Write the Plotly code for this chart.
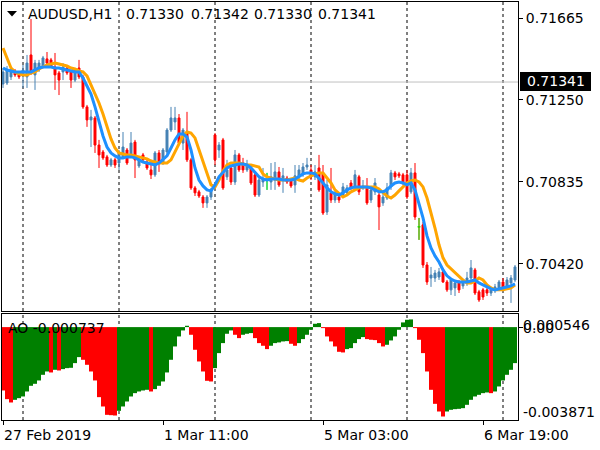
import plotly.graph_objects as go

# ---------------- data ----------------
opens = [0.71331,0.71336,0.71367,0.71397,0.71387,0.71372,0.71367,0.71478,0.71377,0.71402,
0.71417,0.71458,0.71453,0.71417,0.71387,0.71392,0.71412,0.71392,0.71351,0.71412,
0.71367,0.71215,0.71149,0.71159,0.71022,0.70987,0.70962,0.70921,0.70947,0.70931,
0.70962,0.70997,0.70972,0.71037,0.70916,0.70972,0.70936,0.70896,0.70871,0.70982,
0.70931,0.70987,0.71098,0.71139,0.71159,0.71032,0.71083,0.70947,0.70805,0.70785,
0.70759,0.70729,0.70759,0.71073,0.70997,0.71048,0.70861,0.70906,0.70835,0.70972,
0.70931,0.70896,0.70906,0.70871,0.70769,0.70835,0.70845,0.70835,0.70845,0.70886,
0.70845,0.70855,0.70845,0.70820,0.70861,0.70871,0.70911,0.70896,0.70861,0.70906,
0.70881,0.70683,0.70780,0.70744,0.70759,0.70769,0.70780,0.70830,0.70810,0.70861,
0.70805,0.70805,0.70744,0.70785,0.70769,0.70729,0.70754,0.70810,0.70881,0.70876,
0.70871,0.70871,0.70785,0.70881,0.70608,0.70618,0.70415,0.70349,0.70349,0.70354,
0.70380,0.70329,0.70289,0.70299,0.70329,0.70309,0.70324,0.70349,0.70390,0.70279,
0.70289,0.70289,0.70273,0.70289,0.70299,0.70329,0.70304,0.70324,0.70339]
highs = [0.71412,0.71422,0.71417,0.71407,0.71397,0.71427,0.71478,0.71660,0.71453,0.71453,
0.71473,0.71493,0.71463,0.71488,0.71397,0.71437,0.71422,0.71402,0.71412,0.71453,
0.71377,0.71225,0.71200,0.71169,0.71048,0.70997,0.70972,0.70957,0.70957,0.70997,
0.71088,0.71007,0.71088,0.71048,0.70957,0.70982,0.70947,0.70947,0.70992,0.70997,
0.71007,0.71108,0.71215,0.71215,0.71179,0.71108,0.71190,0.70957,0.70815,0.70795,
0.70769,0.70769,0.70805,0.71083,0.71037,0.71058,0.70947,0.70921,0.70997,0.70982,
0.70957,0.70947,0.70921,0.70881,0.70855,0.70906,0.70881,0.70931,0.70936,0.70911,
0.70906,0.70866,0.70855,0.70921,0.70921,0.70931,0.70957,0.70921,0.70921,0.70972,
0.70921,0.70845,0.70906,0.70795,0.70769,0.70830,0.70820,0.70845,0.70896,0.70871,
0.70845,0.70855,0.70815,0.70855,0.70795,0.70780,0.70830,0.70896,0.70891,0.70886,
0.70881,0.70896,0.70906,0.70931,0.70653,0.70633,0.70430,0.70405,0.70390,0.70400,
0.70400,0.70339,0.70349,0.70339,0.70339,0.70344,0.70380,0.70440,0.70400,0.70289,
0.70299,0.70309,0.70304,0.70319,0.70339,0.70349,0.70354,0.70364,0.70415]
lows = [0.71311,0.71326,0.71351,0.71367,0.71356,0.71311,0.71311,0.71377,0.71301,0.71392,
0.71412,0.71427,0.71412,0.71301,0.71275,0.71351,0.71377,0.71311,0.71341,0.71356,
0.71205,0.71114,0.71012,0.70982,0.70906,0.70947,0.70911,0.70911,0.70906,0.70896,
0.70952,0.70921,0.70962,0.70855,0.70906,0.70931,0.70896,0.70850,0.70861,0.70886,
0.70921,0.70972,0.71088,0.71098,0.71022,0.70997,0.70936,0.70795,0.70764,0.70754,
0.70704,0.70704,0.70744,0.70921,0.70957,0.70795,0.70845,0.70820,0.70820,0.70886,
0.70881,0.70886,0.70820,0.70759,0.70759,0.70810,0.70795,0.70795,0.70795,0.70810,
0.70780,0.70825,0.70805,0.70780,0.70845,0.70861,0.70896,0.70845,0.70845,0.70785,
0.70668,0.70668,0.70729,0.70729,0.70729,0.70754,0.70764,0.70795,0.70795,0.70769,
0.70795,0.70719,0.70729,0.70769,0.70592,0.70714,0.70744,0.70795,0.70845,0.70855,
0.70820,0.70749,0.70775,0.70643,0.70542,0.70400,0.70314,0.70304,0.70329,0.70339,
0.70324,0.70279,0.70263,0.70258,0.70273,0.70294,0.70309,0.70339,0.70263,0.70228,
0.70238,0.70258,0.70258,0.70273,0.70283,0.70289,0.70294,0.70223,0.70329]
closes = [0.71392,0.71402,0.71402,0.71377,0.71367,0.71402,0.71437,0.71387,0.71437,0.71437,
0.71463,0.71437,0.71417,0.71377,0.71351,0.71417,0.71387,0.71351,0.71402,0.71367,
0.71215,0.71149,0.71164,0.71022,0.70972,0.70957,0.70921,0.70947,0.70921,0.70987,
0.71012,0.70931,0.71032,0.70947,0.70947,0.70947,0.70906,0.70871,0.70982,0.70931,
0.70997,0.71098,0.71159,0.71159,0.71032,0.71098,0.70947,0.70805,0.70780,0.70764,
0.70729,0.70759,0.70795,0.70947,0.71022,0.70805,0.70896,0.70835,0.70972,0.70896,
0.70896,0.70921,0.70830,0.70769,0.70845,0.70845,0.70845,0.70861,0.70886,0.70820,
0.70866,0.70835,0.70815,0.70866,0.70896,0.70911,0.70921,0.70861,0.70886,0.70795,
0.70678,0.70820,0.70744,0.70780,0.70744,0.70810,0.70805,0.70805,0.70871,0.70785,
0.70815,0.70729,0.70795,0.70830,0.70709,0.70759,0.70805,0.70881,0.70861,0.70866,
0.70830,0.70759,0.70881,0.70658,0.70608,0.70415,0.70329,0.70364,0.70374,0.70380,
0.70329,0.70289,0.70339,0.70324,0.70289,0.70329,0.70349,0.70400,0.70273,0.70238,
0.70253,0.70273,0.70289,0.70304,0.70329,0.70299,0.70339,0.70349,0.70405]

ma_fast = [0.71412,0.71402,0.71397,0.71392,0.71392,0.71392,0.71392,0.71392,0.71402,0.71412,
0.71417,0.71417,0.71417,0.71412,0.71412,0.71407,0.71402,0.71397,0.71392,0.71392,
0.71361,0.71321,0.71280,0.71215,0.71139,0.71068,0.71012,0.70982,0.70967,0.70957,
0.70957,0.70962,0.70962,0.70957,0.70947,0.70936,0.70931,0.70926,0.70921,0.70931,
0.70947,0.70967,0.71007,0.71048,0.71078,0.71078,0.71063,0.70997,0.70906,0.70845,
0.70815,0.70795,0.70790,0.70820,0.70861,0.70886,0.70906,0.70916,0.70921,0.70926,
0.70926,0.70921,0.70906,0.70881,0.70861,0.70850,0.70845,0.70850,0.70850,0.70850,
0.70845,0.70845,0.70845,0.70850,0.70861,0.70876,0.70881,0.70881,0.70876,0.70855,
0.70830,0.70805,0.70785,0.70775,0.70769,0.70780,0.70795,0.70805,0.70810,0.70810,
0.70810,0.70810,0.70805,0.70795,0.70785,0.70785,0.70795,0.70815,0.70830,0.70835,
0.70830,0.70820,0.70830,0.70795,0.70729,0.70653,0.70562,0.70501,0.70461,0.70430,
0.70390,0.70360,0.70344,0.70334,0.70329,0.70329,0.70329,0.70334,0.70339,0.70324,
0.70314,0.70304,0.70294,0.70289,0.70294,0.70299,0.70304,0.70309,0.70319]
ma_slow = [0.71513,0.71463,0.71412,0.71392,0.71382,0.71377,0.71377,0.71387,0.71392,0.71407,
0.71417,0.71427,0.71432,0.71437,0.71432,0.71427,0.71422,0.71412,0.71407,0.71397,
0.71392,0.71372,0.71326,0.71275,0.71235,0.71179,0.71114,0.71053,0.71007,0.70982,
0.70977,0.70972,0.70972,0.70967,0.70962,0.70957,0.70952,0.70941,0.70936,0.70931,
0.70931,0.70931,0.70947,0.70987,0.71032,0.71068,0.71088,0.71083,0.71058,0.70997,
0.70936,0.70871,0.70820,0.70810,0.70845,0.70891,0.70921,0.70931,0.70931,0.70931,
0.70926,0.70921,0.70921,0.70916,0.70911,0.70876,0.70861,0.70855,0.70850,0.70845,
0.70845,0.70845,0.70850,0.70855,0.70845,0.70840,0.70855,0.70866,0.70876,0.70881,
0.70881,0.70855,0.70830,0.70795,0.70775,0.70759,0.70769,0.70785,0.70795,0.70805,
0.70810,0.70810,0.70810,0.70810,0.70800,0.70780,0.70764,0.70754,0.70769,0.70790,
0.70810,0.70830,0.70840,0.70845,0.70835,0.70810,0.70754,0.70683,0.70602,0.70517,
0.70451,0.70415,0.70395,0.70374,0.70354,0.70339,0.70324,0.70324,0.70334,0.70349,
0.70339,0.70314,0.70299,0.70289,0.70289,0.70289,0.70294,0.70299,0.70314]

ao = [-0.002641,-0.003002,-0.003141,-0.003030,-0.002961,-0.002891,-0.002683,-0.002446,-0.002363,-0.002224,
-0.001988,-0.001849,-0.001890,-0.001779,-0.001807,-0.001751,-0.001710,-0.001696,-0.001501,-0.001251,
-0.001362,-0.001571,-0.001849,-0.002224,-0.002919,-0.003308,-0.003656,-0.003670,-0.003684,-0.003489,
-0.003308,-0.003100,-0.002891,-0.002752,-0.002683,-0.002641,-0.002613,-0.002683,-0.002585,-0.002446,
-0.002266,-0.001890,-0.001362,-0.000806,-0.000389,-0.000139,0.000056,-0.000320,-0.000945,-0.001432,
-0.001849,-0.002238,-0.002266,-0.001710,-0.001084,-0.000667,-0.000278,-0.000139,-0.000320,-0.000459,
-0.000320,-0.000278,-0.000250,-0.000459,-0.000667,-0.000778,-0.000917,-0.000778,-0.000667,-0.000639,
-0.000598,-0.000584,-0.000695,-0.000778,-0.000667,-0.000500,-0.000320,-0.000111,0.000139,0.000167,
-0.000042,-0.000389,-0.000598,-0.000806,-0.001029,-0.001056,-0.000917,-0.000876,-0.000667,-0.000500,
-0.000417,-0.000500,-0.000528,-0.000542,-0.000667,-0.000806,-0.000737,-0.000556,-0.000389,-0.000111,
0.000195,0.000306,0.000320,-0.000042,-0.000528,-0.001084,-0.001849,-0.002613,-0.003197,-0.003517,
-0.003725,-0.003517,-0.003447,-0.003419,-0.003406,-0.003378,-0.003239,-0.003030,-0.002891,-0.002822,
-0.002752,-0.002724,-0.002752,-0.002683,-0.002474,-0.002224,-0.001988,-0.001779,-0.001501]

bars = list(range(len(closes)))
day_start_bars = [5, 29, 53, 77, 101, 125]
label_bars = [0, 40, 80, 120]
tick_labels = ["27 Feb 2019", "1 Mar 11:00", "5 Mar 03:00", "6 Mar 19:00"]
price_ticks = [0.71665, 0.71250, 0.70835, 0.70420]
bid = 0.71341
header_symbol = "AUDUSD,H1"
header_values = ["0.71330", "0.71342", "0.71330", "0.71341"]
ao_title = "AO -0.000737"
ao_max, ao_min = 0.000546, -0.003871

# ---------------- styling helpers ----------------
W, H = 600, 450
L, R, T, B = 2, 518, 2, 420
def fx(px):
    return (px - L) / (R - L)
def fy(py):
    return (B - py) / (B - T)

FONT = "DejaVu Sans"
BULL, BEAR, DOJI = "#4682B4", "#FF0000", "#00FF00"

fig = go.Figure()

fig.add_trace(go.Candlestick(
    x=bars, open=opens, high=highs, low=lows, close=closes,
    increasing=dict(line=dict(color=BULL, width=1), fillcolor=BULL),
    decreasing=dict(line=dict(color=BEAR, width=1), fillcolor=BEAR),
    whiskerwidth=0, showlegend=False, hoverinfo="skip",
    xaxis="x", yaxis="y"))

# doji overlay
dx, dy = [], []
for i, (o, h, l, c) in enumerate(zip(opens, highs, lows, closes)):
    if o == c:
        dx += [i, i, None, i - 0.4, i + 0.4, None]
        dy += [l, h, None, o, o, None]
fig.add_trace(go.Scatter(x=dx, y=dy, mode="lines", line=dict(color=DOJI, width=1),
                         showlegend=False, hoverinfo="skip", xaxis="x", yaxis="y"))

fig.add_trace(go.Scatter(x=bars, y=ma_slow, mode="lines",
                         line=dict(color="#FFA500", width=3), showlegend=False,
                         hoverinfo="skip", xaxis="x", yaxis="y"))
fig.add_trace(go.Scatter(x=bars, y=ma_fast, mode="lines",
                         line=dict(color="#1E90FF", width=3), showlegend=False,
                         hoverinfo="skip", xaxis="x", yaxis="y"))

ao_colors = []
for i, v in enumerate(ao):
    if i == 0:
        ao_colors.append(BEAR)
    else:
        ao_colors.append("#008000" if v > ao[i - 1] else BEAR)
fig.add_trace(go.Bar(x=bars, y=ao, width=1, marker=dict(color=ao_colors, line=dict(width=0)),
                     showlegend=False, hoverinfo="skip", xaxis="x2", yaxis="y2"))

main_bottom = fy(311)
ao_top = fy(314)
xr = [(L - 3) / 4, (R - 3) / 4]

fig.update_layout(
    width=W, height=H,
    margin=dict(l=L, r=W - R, t=T, b=H - B, autoexpand=False),
    paper_bgcolor="white", plot_bgcolor="white",
    showlegend=False,
    font=dict(family=FONT, size=14, color="black"),
    xaxis=dict(domain=[0, 1], anchor="y", range=xr, showticklabels=False, ticks="",
               showgrid=False, zeroline=False, showline=True, mirror=True,
               linecolor="black", linewidth=1, rangeslider=dict(visible=False), fixedrange=True),
    yaxis=dict(domain=[main_bottom, 1], anchor="x", side="right",
               range=[0.70182, 0.71746], tickvals=price_ticks,
               ticktext=[f"{v:.5f}" for v in price_ticks],
               ticks="outside", ticklen=4, tickcolor="black", showgrid=False, zeroline=False,
               showline=True, mirror=True, linecolor="black", linewidth=1,
               tickfont=dict(family=FONT, size=14, color="black")),
    xaxis2=dict(domain=[0, 1], anchor="y2", range=xr, tickvals=label_bars,
                showticklabels=False, ticks="outside", ticklen=4, tickcolor="black",
                showgrid=False, zeroline=False, showline=True, mirror=True,
                linecolor="black", linewidth=1),
    yaxis2=dict(domain=[0, ao_top], anchor="x2", side="right",
                range=[ao_min, ao_max], tickvals=[0], showticklabels=False,
                ticks="outside", ticklen=4, tickcolor="black", showgrid=False, zeroline=False,
                showline=True, mirror=True, linecolor="black", linewidth=1),
)

shapes = []
for d in day_start_bars:
    shapes.append(dict(type="line", xref="x", yref="paper", x0=d, x1=d, y0=main_bottom, y1=1,
                       line=dict(color="black", width=1, dash="3px,3px"), layer="below"))
    shapes.append(dict(type="line", xref="x2", yref="paper", x0=d, x1=d, y0=0, y1=ao_top,
                       line=dict(color="black", width=1, dash="3px,3px"), layer="below"))
shapes.append(dict(type="line", xref="paper", yref="y", x0=0, x1=1, y0=bid, y1=bid,
                   line=dict(color="#C0C0C0", width=1), layer="below"))
# current price box
shapes.append(dict(type="rect", xref="paper", yref="paper", x0=fx(520), x1=fx(591),
                   y0=fy(91), y1=fy(72), fillcolor="black", line=dict(width=0)))
# menu triangle
shapes.append(dict(type="path", xref="paper", yref="paper",
                   path=f"M {fx(7)} {fy(11)} L {fx(17)} {fy(11)} L {fx(12)} {fy(16.5)} Z",
                   fillcolor="black", line=dict(width=0)))
fig.update_layout(shapes=shapes)

ann = []
def text(t, px, py, color="black", anchor="left"):
    ann.append(dict(text=t, x=fx(px), y=fy(py), xref="paper", yref="paper",
                    xanchor=anchor, yanchor="middle", showarrow=False,
                    font=dict(family=FONT, size=14, color=color)))

text(header_symbol, 26, 14.5)
for v, px in zip(header_values, [124, 189, 252, 316]):
    text(v, px, 14.5)
text(f"{bid:.5f}", 525, 81.5, color="white")
text(ao_title, 6, 328)
text(f"{ao_max:.6f}", 521, 325)
text("0.00", 521, 328)
text(f"{ao_min:.6f}", 521, 412)
for lbl, b in zip(tick_labels, label_bars):
    text(lbl, 3 + 4 * b - 1, 435)
fig.update_layout(annotations=ann)

fig.write_html("out.html", config={"displayModeBar": False, "staticPlot": True},
               post_script="document.body.style.margin='0';document.body.style.padding='0';")
